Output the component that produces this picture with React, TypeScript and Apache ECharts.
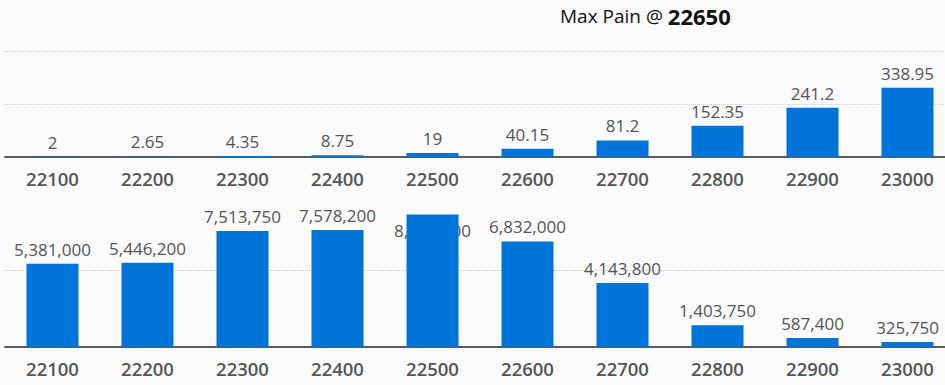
import React, { useEffect, useRef } from "react";
import * as echarts from "echarts";

const strikes = ["22100", "22200", "22300", "22400", "22500", "22600", "22700", "22800", "22900", "23000"];
const painValues = [2, 2.65, 4.35, 8.75, 19, 40.15, 81.2, 152.35, 241.2, 338.95];
const totalValues = [5381000, 5446200, 7513750, 7578200, 8571000, 6832000, 4143800, 1403750, 587400, 325750];
const maxPainStrike = "22650";

const BAR = "#0174da";
const LABEL = "#555555";
const FONT = "'Open Sans', 'Noto Sans', sans-serif";

export default function App() {
  const ref = useRef<HTMLDivElement>(null);
  useEffect(() => {
    if (!ref.current) return;
    const chart = echarts.init(ref.current, null, { renderer: "svg" });
    const axisCommon = {
      type: "category" as const,
      data: strikes,
      axisTick: { show: false },
      axisLine: { show: true, lineStyle: { color: "#5a5a5a", width: 2 } },
      axisLabel: { color: LABEL, fontSize: 18.5, fontWeight: 600 as any, fontFamily: FONT, margin: 12 },
    };
    chart.setOption({
      animation: false,
      backgroundColor: "#fafafa",
      title: {
        text: "{a|Max Pain @ }{b|" + maxPainStrike + "}",
        left: 555,
        top: 0,
        textStyle: {
          fontWeight: "normal",
          rich: {
            a: { fontSize: 19, fontWeight: "normal", color: "#111", fontFamily: FONT },
            b: { fontSize: 22, fontWeight: "bold", color: "#111", fontFamily: FONT },
          },
        },
      },
      grid: [
        { left: 5, right: 10, top: 51, bottom: 228 },
        { left: 5, right: 10, top: 192.5, bottom: 38 },
      ],
      xAxis: [
        { ...axisCommon, gridIndex: 0 },
        { ...axisCommon, gridIndex: 1 },
      ],
      yAxis: [
        {
          type: "value",
          gridIndex: 0,
          min: 0,
          max: 518,
          interval: 259,
          axisLabel: { show: false },
          axisLine: { show: false },
          axisTick: { show: false },
          splitLine: { show: true, lineStyle: { color: "#cccccc", type: "dotted", width: 1 } },
        },
        {
          type: "value",
          gridIndex: 1,
          min: 0,
          max: 10000000,
          interval: 5000000,
          axisLabel: { show: false },
          axisLine: { show: false },
          axisTick: { show: false },
          splitLine: {
            show: true,
            lineStyle: { color: ["#cccccc", "#cccccc", "rgba(0,0,0,0)"], type: "dotted", width: 1 },
          },
        },
      ],
      series: [
        {
          type: "bar",
          xAxisIndex: 0,
          yAxisIndex: 0,
          data: painValues,
          barWidth: 52,
          itemStyle: { color: BAR },
          label: { show: true, position: "top", color: LABEL, fontSize: 17, fontFamily: FONT, distance: 6 },
        },
        {
          type: "bar",
          xAxisIndex: 1,
          yAxisIndex: 1,
          z: 1,
          data: totalValues.map((v, i) =>
            i === 4 ? { value: v, label: { offset: [0, 30] } } : v
          ),
          barWidth: 52,
          barGap: "-100%",
          itemStyle: { color: "rgba(0,0,0,0)" },
          label: {
            show: true,
            position: "top",
            color: LABEL,
            fontSize: 17,
            fontFamily: FONT,
            distance: 6,
            formatter: (p: any) => Number(p.value).toLocaleString("en-US"),
          },
        },
        {
          type: "bar",
          xAxisIndex: 1,
          yAxisIndex: 1,
          z: 3,
          data: totalValues,
          barWidth: 52,
          barGap: "-100%",
          itemStyle: { color: BAR },
        },
      ],
    });
    return () => chart.dispose();
  }, []);
  return (
    <div style={{ position: "absolute", left: 0, top: 0, width: 945, height: 385, overflow: "hidden" }}>
      <div ref={ref} style={{ width: 965, height: 385 }} />
    </div>
  );
}
